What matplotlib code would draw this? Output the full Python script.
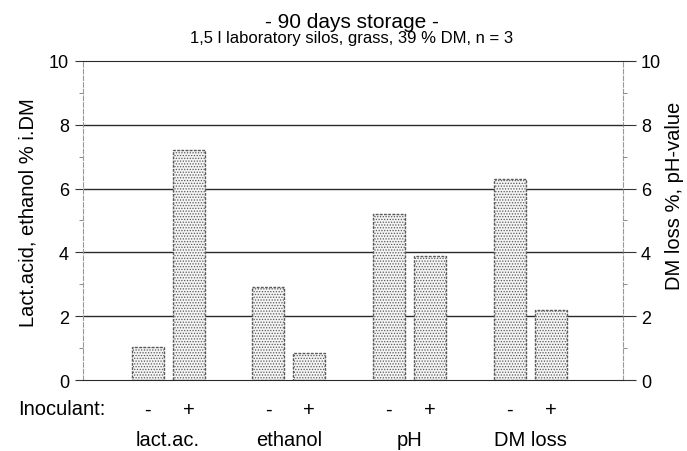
import numpy as np
import matplotlib
matplotlib.use('Agg')
from matplotlib import pyplot as plt

plt.rcParams['font.family'] = ['Liberation Sans', 'DejaVu Sans']
plt.rcParams['hatch.color'] = '#9a9a9a'
plt.rcParams['hatch.linewidth'] = 0.6

# Data
groups   = ['lact.ac.', 'ethanol', 'pH', 'DM loss']
without  = [1.05, 2.9, 5.2, 6.3]     # inoculant -
with_ino = [7.2, 0.85, 3.9, 2.2]     # inoculant +
signs    = ['-', '+']

x = np.arange(len(groups))
off = 0.17
w = 0.265
Nsize = 14.5

fig = plt.figure(figsize=(6.87, 4.52), dpi=100)
ax = fig.add_axes([0.1208, 0.157, 0.786, 0.706])

# horizontal grid lines behind the bars
for yv in [2, 4, 6, 8]:
    ax.axhline(yv, color='#2a2a2a', lw=1.0, zorder=0)

bar_kw = dict(width=w, color='#f4f4f4', edgecolor='#5a5a5a', hatch='......',
              linewidth=1.0, linestyle=(0, (2, 1)), zorder=2)
ax.bar(x - off, without, **bar_kw)
ax.bar(x + off, with_ino, **bar_kw)

ax.set_xlim(-0.705, 3.77)
ax.set_ylim(0, 10)
ax.set_xticks([])
ax.set_yticks([0, 2, 4, 6, 8, 10])
ax.set_yticks([1, 3, 5, 7, 9], minor=True)
ax.tick_params(axis='y', labelsize=13, length=6, width=0.8, color='#333', pad=4)
ax.tick_params(axis='y', which='minor', length=3, width=0.6, color='#777')

ax.spines['top'].set_color('#2a2a2a')
ax.spines['bottom'].set_color('#2a2a2a')
for s in ['left', 'right']:
    ax.spines[s].set_linestyle((0, (4, 2)))
    ax.spines[s].set_color('#999')
    ax.spines[s].set_linewidth(0.8)

ax2 = ax.twinx()
ax2.set_ylim(0, 10)
ax2.set_yticks([0, 2, 4, 6, 8, 10])
ax2.set_yticks([1, 3, 5, 7, 9], minor=True)
ax2.tick_params(axis='y', labelsize=13, length=9, width=0.8, color='#333', pad=4)
ax2.tick_params(axis='y', which='minor', length=3, width=0.6, color='#777')
for s in ['left', 'right', 'top', 'bottom']:
    ax2.spines[s].set_visible(False)

# axis titles
fig.text(28 / 687, 1 - 213 / 452, 'Lact.acid, ethanol % i.DM', fontsize=Nsize,
         rotation=90, ha='center', va='center')
fig.text(675 / 687, 1 - 196 / 452, 'DM loss %, pH-value', fontsize=Nsize,
         rotation=90, ha='center', va='center')

# inoculant row and group names
tr = ax.get_xaxis_transform()
fig.text(18 / 687, 1 - 410 / 452, 'Inoculant:', fontsize=Nsize, ha='left', va='center')
for i in range(len(groups)):
    ax.text(x[i] - off, -0.091, signs[0], transform=tr, fontsize=Nsize, ha='center', va='center')
    ax.text(x[i] + off, -0.091, signs[1], transform=tr, fontsize=Nsize, ha='center', va='center')
    ax.text(x[i], -0.185, groups[i], transform=tr, fontsize=Nsize, ha='center', va='center')

fig.text(352 / 687, 1 - 22 / 452, '- 90 days storage -', fontsize=15, ha='center', va='center')
fig.text(352 / 687, 1 - 39 / 452, '1,5 l laboratory silos, grass, 39 % DM, n = 3',
         fontsize=12, ha='center', va='center')

fig.savefig('out.png', dpi=100)
